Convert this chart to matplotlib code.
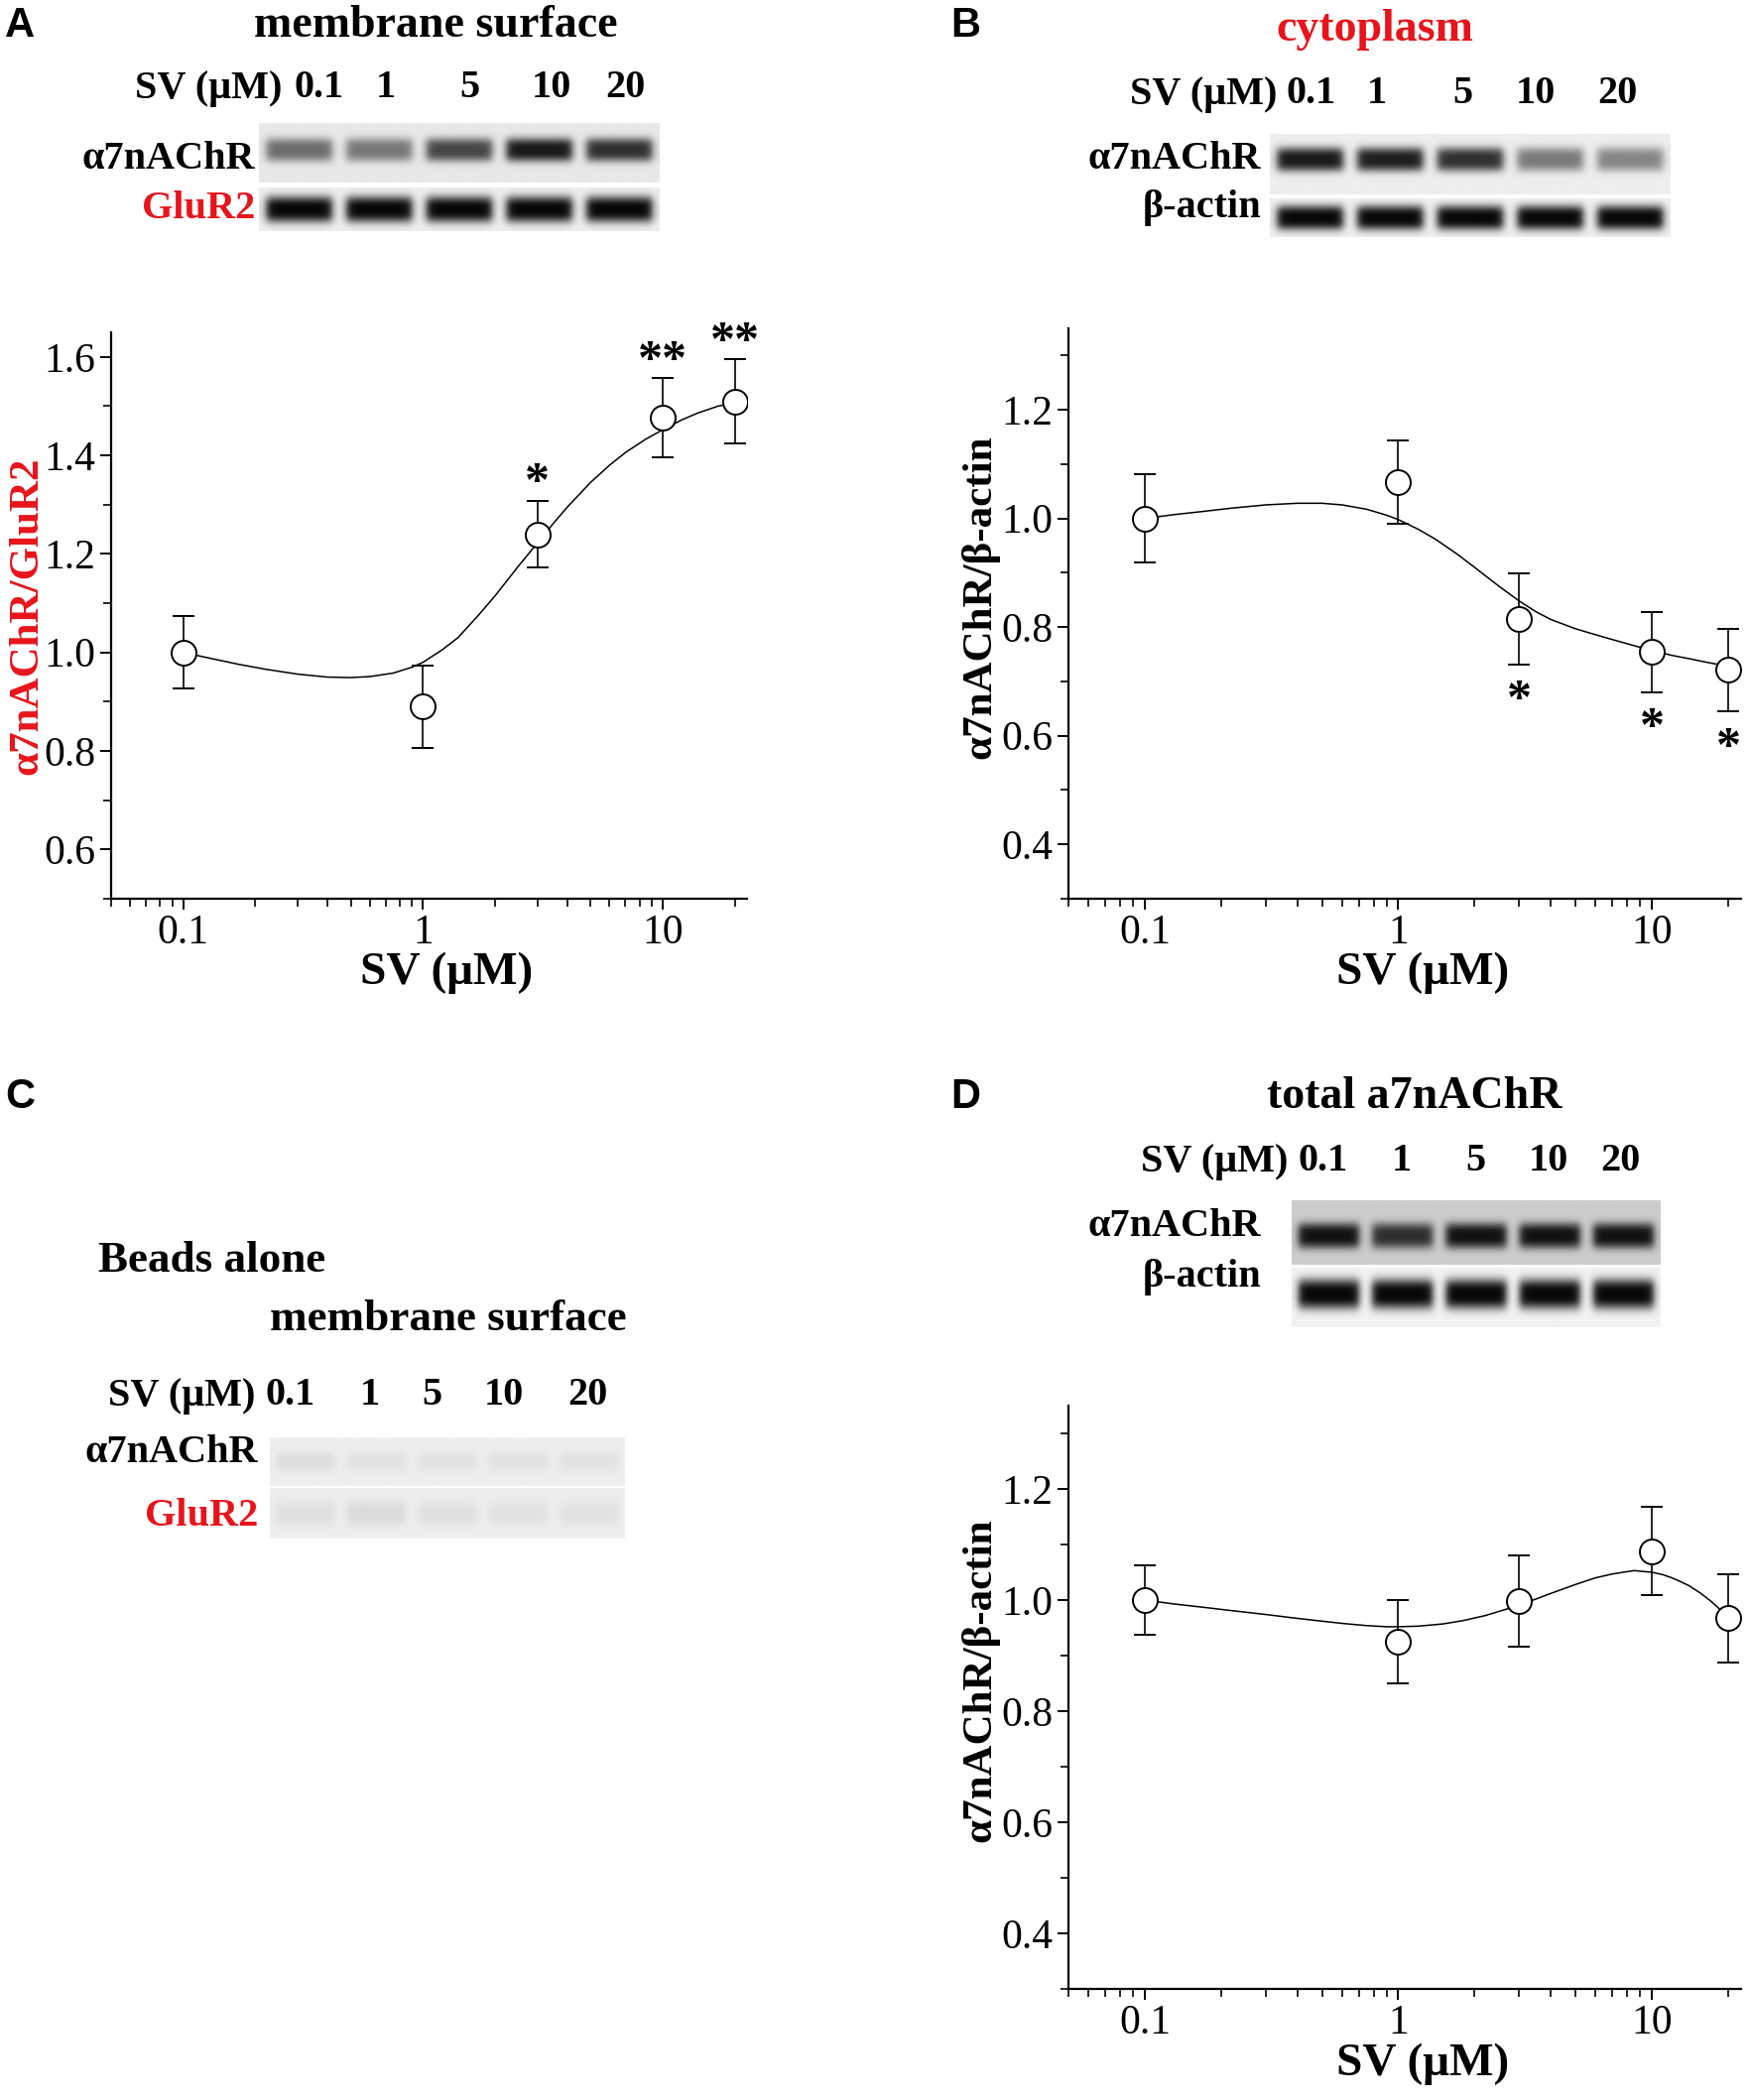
import numpy as np
import matplotlib
matplotlib.use('Agg')
import matplotlib.pyplot as plt
from matplotlib import ticker

plt.rcParams['font.family'] = ['Liberation Serif', 'DejaVu Serif']

# ---- data ----
conc = [0.1, 1, 3, 10, 20]
lane_labels = ['0.1', '1', '5', '10', '20']

surface_mean = [1.0, 0.89, 1.24, 1.477, 1.51]
surface_err = [0.073, 0.083, 0.068, 0.08, 0.085]
surface_sig = ['', '', '*', '**', '**']
surface_fit_x = [0.1, 0.13, 0.17, 0.22, 0.3, 0.4, 0.5, 0.6, 0.75, 0.9, 1.0, 1.2, 1.4,
                 1.7, 2.0, 2.5, 3.0, 3.5, 4, 5, 6, 7, 8.5, 10, 12, 14, 17, 20]
surface_fit_y = [1.0, 0.988, 0.976, 0.966, 0.956, 0.950, 0.949, 0.951, 0.958, 0.97,
                 0.98, 1.005, 1.03, 1.075, 1.115, 1.175, 1.222, 1.262, 1.295, 1.345,
                 1.38, 1.406, 1.433, 1.452, 1.472, 1.486, 1.5, 1.507]

cyto_mean = [1.0, 1.067, 0.815, 0.754, 0.721]
cyto_err = [0.081, 0.077, 0.084, 0.074, 0.076]
cyto_sig = ['', '', '*', '*', '*']
cyto_fit_x = [0.1, 0.13, 0.17, 0.22, 0.3, 0.4, 0.5, 0.6, 0.75, 0.9, 1.0, 1.2, 1.4,
              1.7, 2.0, 2.5, 3, 3.5, 4, 5, 6, 7, 8.5, 10, 12, 14, 17, 20]
cyto_fit_y = [1.0, 1.007, 1.013, 1.019, 1.025, 1.028, 1.028, 1.025, 1.017, 1.006,
              0.998, 0.98, 0.962, 0.935, 0.91, 0.875, 0.848, 0.828, 0.814, 0.797,
              0.786, 0.777, 0.766, 0.757, 0.748, 0.742, 0.734, 0.728]

total_mean = [1.0, 0.925, 0.998, 1.088, 0.967]
total_err = [0.062, 0.075, 0.082, 0.079, 0.08]
total_fit_x = [0.1, 0.13, 0.17, 0.22, 0.3, 0.4, 0.5, 0.6, 0.75, 0.9, 1.0, 1.2, 1.5,
               1.8, 2.2, 2.6, 3, 3.5, 4, 5, 6, 7, 8.5, 10, 11, 12, 13, 14, 15.5, 17,
               18.5, 20]
total_fit_y = [1.0, 0.993, 0.987, 0.981, 0.974, 0.967, 0.962, 0.958, 0.954, 0.952,
               0.952, 0.953, 0.957, 0.963, 0.972, 0.982, 0.991, 1.002, 1.012, 1.028,
               1.04, 1.047, 1.053, 1.05, 1.046, 1.04, 1.033, 1.026, 1.013, 0.999,
               0.984, 0.968]

# band darkness per lane (0 = no band, 1 = black)
blot_a_a7 = [0.55, 0.5, 0.72, 0.92, 0.82]
blot_a_glur2 = [1.0, 1.0, 1.0, 1.0, 1.0]
blot_b_a7 = [0.92, 0.9, 0.82, 0.5, 0.45]
blot_b_actin = [1.0, 1.0, 1.0, 1.0, 1.0]
blot_c_a7 = [0.07, 0.05, 0.05, 0.05, 0.05]
blot_c_glur2 = [0.06, 0.08, 0.06, 0.05, 0.05]
blot_d_a7 = [0.95, 0.8, 0.95, 0.95, 0.95]
blot_d_actin = [1.0, 1.0, 1.0, 1.0, 1.0]

W, H = 1764, 2117
fig = plt.figure(figsize=(W / 100, H / 100), dpi=100)
RED = '#e8141b'


def box(x0, y0, x1, y1):
    # pixel box (top-left origin) -> figure fraction rect
    return [x0 / W, 1 - y1 / H, (x1 - x0) / W, (y1 - y0) / H]


def txt(x, y, s, **kw):
    fig.text(x / W, 1 - y / H, s, **kw)


def draw_strip(rect, dark, bg, band_y=0.5, band_h=0.25, band_w=0.41):
    ax = fig.add_axes(rect)
    xs = np.linspace(0, 5, 600)
    ys = np.linspace(0, 1, 120)
    X, Y = np.meshgrid(xs, ys)
    img = np.zeros_like(X)
    for k, d in enumerate(dark):
        px = 1 / (1 + np.exp((np.abs(X - (k + 0.5)) - band_w) / 0.03))
        py = np.exp(-(np.abs(Y - band_y) / band_h) ** 3)
        img = np.maximum(img, d * px * py)
    vals = bg - (bg - 0.03) * img
    ax.imshow(vals, cmap='gray', vmin=0, vmax=1, extent=(0, 5, 1, 0),
              aspect='auto', interpolation='bilinear')
    ax.set_xlim(0, 5)
    ax.set_ylim(1, 0)
    ax.set_axis_off()


def header(title, title_color, tx, ty, row_y, sv_right, num_x, fs_title=33):
    txt(tx, ty, title, color=title_color, fontsize=fs_title, fontweight='bold',
        ha='center', va='center')
    txt(sv_right, row_y, 'SV (μM)', fontsize=29, fontweight='bold', ha='right', va='center')
    for xx, lab in zip(num_x, lane_labels):
        txt(xx, row_y, lab, fontsize=29, fontweight='bold', ha='center', va='center')


def letter(x, y, s):
    txt(x, y, s, fontsize=30, fontweight='bold', family='Liberation Sans',
        ha='center', va='center')


def plot_panel(rect, mean, err, fit_x, fit_y, ylim, ylabel, ylabel_color, sig=None,
               sig_below=False, ylabel_y=0.5):
    ax = fig.add_axes(rect)
    ax.plot(fit_x, fit_y, color='black', lw=1.1, zorder=2)
    ax.errorbar(conc, mean, yerr=err, fmt='o', mfc='white', mec='black', ms=18,
                mew=1.4, ecolor='black', elinewidth=1.2, capsize=8, capthick=1.2,
                zorder=3)
    if sig is not None:
        for x, m, e, s in zip(conc, mean, err, sig):
            if not s:
                continue
            if sig_below:
                ax.annotate(s, (x, m - e), xytext=(0, -27), textcoords='offset points',
                            ha='center', va='center', fontsize=36, fontweight='bold')
            else:
                ax.annotate(s, (x, m + e), xytext=(0, 12), textcoords='offset points',
                            ha='center', va='center', fontsize=36, fontweight='bold')
    ax.set_xscale('log')
    ax.set_xlim(0.05, 22.5)
    ax.set_ylim(*ylim)
    ax.xaxis.set_major_locator(ticker.LogLocator(base=10, numticks=10))
    ax.xaxis.set_minor_locator(ticker.LogLocator(base=10, subs=np.arange(2, 10), numticks=10))
    ax.xaxis.set_major_formatter(ticker.FuncFormatter(lambda v, p: f'{v:g}'))
    ax.xaxis.set_minor_formatter(ticker.NullFormatter())
    ax.yaxis.set_major_locator(ticker.MultipleLocator(0.2))
    ax.yaxis.set_minor_locator(ticker.MultipleLocator(0.1))
    ax.yaxis.set_major_formatter(ticker.FormatStrFormatter('%.1f'))
    for side in ['top', 'right']:
        ax.spines[side].set_visible(False)
    for side in ['left', 'bottom']:
        ax.spines[side].set_linewidth(1.6)
    ax.tick_params(which='major', direction='out', length=8, width=1.4, labelsize=30, pad=3)
    ax.tick_params(which='minor', direction='out', length=6, width=1.2)
    ax.set_xlabel('SV (μM)', fontsize=34, fontweight='bold')
    ax.xaxis.set_label_coords(0.527, -0.093)
    ax.set_ylabel(ylabel, fontsize=31, fontweight='bold', color=ylabel_color)
    ax.yaxis.set_label_coords(-0.103, ylabel_y)
    return ax


# ---- panel A ----
letter(20, 26, 'A')
header('membrane surface', 'black', 439, 26, 89, 284, [322, 389, 473, 556, 630])
draw_strip(box(261, 124, 665, 184), blot_a_a7, 0.91, band_y=0.45, band_h=0.2)
draw_strip(box(261, 189, 665, 233), blot_a_glur2, 0.93, band_y=0.5, band_h=0.3)
txt(257, 160, 'α7nAChR', fontsize=29, fontweight='bold', ha='right', va='center')
txt(257, 210, 'GluR2', fontsize=29, fontweight='bold', ha='right', va='center', color=RED)
plot_panel(box(112, 335, 753, 906), surface_mean, surface_err, surface_fit_x,
           surface_fit_y, (0.5, 1.65), 'α7nAChR/GluR2', RED, sig=surface_sig)

# ---- panel B ----
letter(973, 26, 'B')
header('cytoplasm', RED, 1386, 30, 95, 1287, [1322, 1388, 1474, 1548, 1630])
draw_strip(box(1280, 135, 1684, 196), blot_b_a7, 0.93, band_y=0.42, band_h=0.2)
draw_strip(box(1280, 200, 1684, 239), blot_b_actin, 0.94, band_y=0.5, band_h=0.32)
txt(1271, 160, 'α7nAChR', fontsize=29, fontweight='bold', ha='right', va='center')
txt(1271, 210, 'β-actin', fontsize=29, fontweight='bold', ha='right', va='center')
plot_panel(box(1077, 331, 1755, 906), cyto_mean, cyto_err, cyto_fit_x, cyto_fit_y,
           (0.3, 1.35), 'α7nAChR/β-actin', 'black', sig=cyto_sig, sig_below=True,
           ylabel_y=0.53)

# ---- panel C ----
letter(20, 1106, 'C')
txt(99, 1271, 'Beads alone', fontsize=32.5, fontweight='bold', ha='left', va='center')
txt(452, 1330, 'membrane surface', fontsize=32.5, fontweight='bold', ha='center', va='center')
txt(257, 1407, 'SV (μM)', fontsize=29, fontweight='bold', ha='right', va='center')
for xx, lab in zip([293, 373, 435, 508, 592], lane_labels):
    txt(xx, 1407, lab, fontsize=29, fontweight='bold', ha='center', va='center')
draw_strip(box(272, 1449, 630, 1498), blot_c_a7, 0.93, band_y=0.5, band_h=0.2)
draw_strip(box(272, 1500, 630, 1551), blot_c_glur2, 0.93, band_y=0.5, band_h=0.25)
txt(260, 1464, 'α7nAChR', fontsize=29, fontweight='bold', ha='right', va='center')
txt(260, 1528, 'GluR2', fontsize=29, fontweight='bold', ha='right', va='center', color=RED)

# ---- panel D ----
letter(973, 1106, 'D')
header('total a7nAChR', 'black', 1426, 1106, 1171, 1298, [1334, 1413, 1487, 1561, 1633])
draw_strip(box(1302, 1210, 1674, 1275), blot_d_a7, 0.80, band_y=0.55, band_h=0.2)
draw_strip(box(1302, 1278, 1674, 1338), blot_d_actin, 0.95, band_y=0.45, band_h=0.25)
txt(1271, 1237, 'α7nAChR', fontsize=29, fontweight='bold', ha='right', va='center')
txt(1271, 1288, 'β-actin', fontsize=29, fontweight='bold', ha='right', va='center')
plot_panel(box(1077, 1417, 1755, 2005), total_mean, total_err, total_fit_x, total_fit_y,
           (0.3, 1.35), 'α7nAChR/β-actin', 'black', ylabel_y=0.53)

fig.savefig('out.png', dpi=100, facecolor='white')
